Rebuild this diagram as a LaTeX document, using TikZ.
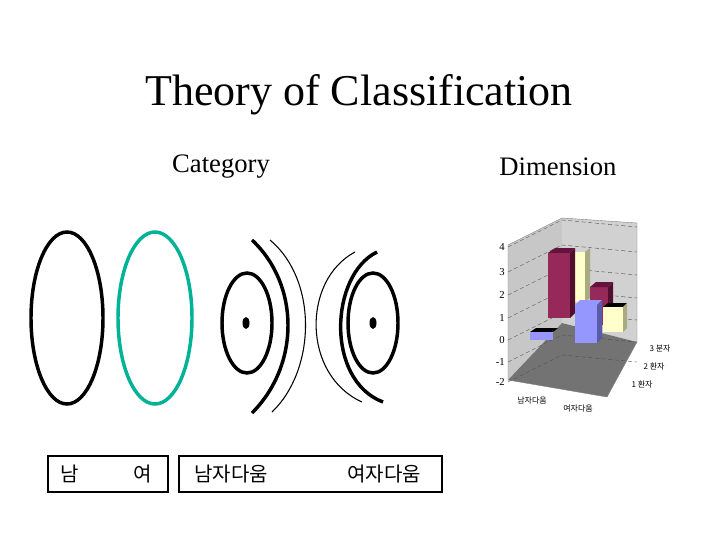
\documentclass[tikz,border=0pt]{standalone}
\usepackage{fontspec}
\setmainfont{Liberation Serif}
\newfontfamily\kr{Noto Sans CJK KR}
\definecolor{teal1}{RGB}{0,178,150}
\definecolor{cream}{RGB}{255,255,204}
\definecolor{creamside}{RGB}{170,170,130}
\definecolor{maroon}{RGB}{150,40,90}
\definecolor{maroontop}{RGB}{100,20,60}
\definecolor{maroonside}{RGB}{80,15,45}
\definecolor{lblue}{RGB}{150,150,255}
\definecolor{lblueside}{RGB}{90,90,170}
\begin{document}
\begin{tikzpicture}[x=0.75pt,y=-0.75pt,
  thick3/.style={line width=2.6pt},
  thinarc/.style={line width=0.8pt},
  lbl/.style={font=\kr\fontsize{15}{15}\selectfont, inner sep=0pt},
  tiny/.style={font=\kr\fontsize{6}{6}\selectfont, inner sep=0pt}]
\useasboundingbox (0,0) rectangle (720,540);
\node (title) at (359,95) {\fontsize{33}{33}\selectfont Theory of Classification};
\node (cat) at (221,167) {\fontsize{20}{20}\selectfont Category};
\node (dim) at (558,167) {\fontsize{20}{20}\selectfont Dimension};
% ellipses
\draw[thick3] (67,318) ellipse [x radius=36, y radius=86];
\draw[thick3, teal1] (155,318) ellipse [x radius=37, y radius=86];
\draw[thick3] (247,323) ellipse [x radius=25, y radius=50];
\draw[thick3] (373,323) ellipse [x radius=25, y radius=50];
\fill (246,323) ellipse [x radius=3.5, y radius=6];
\fill (373,323) ellipse [x radius=3.5, y radius=6];
% arcs
\draw[thick3] (252,240) .. controls (300,285) and (300,365) .. (252,413);
\draw[thinarc] (270,240) .. controls (318,280) and (316,370) .. (272,412);
\draw[thick3] (377,252) .. controls (330,275) and (325,380) .. (383,402);
\draw[thinarc] (355,252) .. controls (302,280) and (302,375) .. (362,402);
% boxes
\draw[line width=1.5pt] (48,456) rectangle (168,492);
\draw[line width=1.5pt] (179,456) rectangle (442,492);
\node[lbl] (n1) at (70,474) {남};
\node[lbl] (n2) at (143,474) {여};
\node[lbl] (n3) at (231,474) {남자다움};
\node[lbl] (n4) at (384,474) {여자다움};
% chart
\fill[black!22] (508,245) -- (562,218) -- (562,323) -- (508,380) -- cycle;
\fill[black!18] (562,218) -- (637,223) -- (637,342) -- (562,323) -- cycle;
\fill[black!55] (508,380) -- (562,323) -- (637,342) -- (607,397) -- cycle;
\draw[black!50, line width=0.3pt] (508,245) -- (562,218) -- (637,223) -- (637,342) -- (607,397) -- (508,380) -- cycle;
\foreach \v/\y in {4/247,3/272,2/295,1/318,0/340,-1/362,-2/382}{
  \node[font=\fontsize{8}{8}\selectfont, inner sep=0pt, anchor=east] at (505,\y) {\v};
  \draw[densely dashed, black!70, line width=0.3pt] (508,\y) -- (562,\y-27) -- (637,\y-20);
}
% bars
\fill[black] (530,332) -- (536,328) -- (558,328) -- (553,332) -- cycle;
\fill[lblue] (530,332) rectangle (553,340);
\fill[cream] (570,252) rectangle (585,302);
\fill[creamside] (585,252) -- (590,248) -- (590,298) -- (585,302) -- cycle;
\fill[maroontop] (548,253) -- (555,248) -- (575,248) -- (570,253) -- cycle;
\fill[maroon] (548,253) rectangle (570,318);
\fill[maroonside] (570,253) -- (575,248) -- (575,313) -- (570,318) -- cycle;
\fill[maroon] (590,287) rectangle (608,325);
\fill[maroontop] (590,287) -- (596,282) -- (613,282) -- (608,287) -- cycle;
\fill[maroonside] (608,287) -- (613,282) -- (613,320) -- (608,325) -- cycle;
\fill[black] (603,307) -- (608,303) -- (627,303) -- (623,307) -- cycle;
\fill[cream] (603,307) rectangle (623,332);
\fill[creamside] (623,307) -- (627,303) -- (627,328) -- (623,332) -- cycle;
\fill[lblue] (575,305) -- (580,300) -- (602,300) -- (597,305) -- cycle;
\fill[lblue] (575,305) rectangle (597,343);
\fill[lblueside] (597,305) -- (602,300) -- (602,338) -- (597,343) -- cycle;
\node[tiny] (t1) at (532,400) {남자다움};
\node[tiny] (t2) at (578,408) {여자다움};
\node[tiny] (t3) at (660,348) {3 분자};
\node[tiny] (t4) at (654,366) {2 환자};
\node[tiny] (t5) at (642,384) {1 환자};
\end{tikzpicture}
\end{document}
